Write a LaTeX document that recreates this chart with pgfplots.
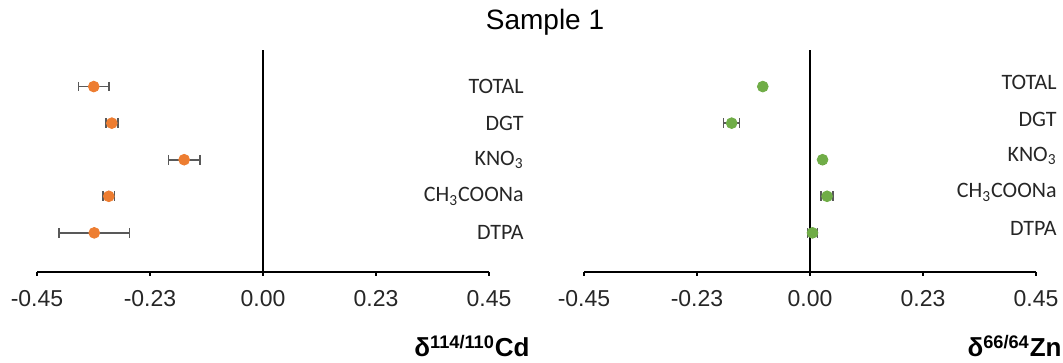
\documentclass[border=0pt]{standalone}
\usepackage{pgfplots}
\usepackage{pgfplotstable}
\pgfplotsset{compat=1.18}
\usepackage{fontspec}
\setmainfont{Liberation Sans}
\newfontfamily\calfont{Carlito}
\definecolor{cdorange}{HTML}{ED7D31}
\definecolor{zngreen}{HTML}{70AD47}
\definecolor{errgray}{HTML}{595959}

\pgfplotstableread{
x y e
-0.337 5 0.030
-0.301 4 0.012
-0.157 3 0.031
-0.307 2 0.011
-0.336 1 0.070
}\cdtab

\pgfplotstableread{
x y e
-0.094 5 0.003
-0.156 4 0.016
0.025 3 0.003
0.034 2 0.012
0.005 1 0.010
}\zntab

\pgfplotsset{panel/.style={
  anchor=south west,
  scale only axis, width=226pt, height=111pt,
  xmin=-0.45, xmax=0.45, ymin=-0.07, ymax=6,
  axis x line*=bottom, axis y line*=right,
  x axis line style={line width=0.8pt, black},
  y axis line style={draw=none},
  xtick={-0.45,-0.225,0,0.225,0.45},
  xticklabels={-0.45,-0.23,0.00,0.23,0.45},
  tick align=outside, major tick length=2pt,
  xtick style={line width=0.8pt, black},
  xticklabel style={font=\fontsize{11.5}{13}\selectfont, text=black!85, inner sep=0pt, yshift=-7pt},
  ytick={1,2,3,4,5},
  yticklabels={DTPA,CH\textsubscript{3}COONa,KNO\textsubscript{3},DGT,TOTAL},
  ytick style={draw=none},
  yticklabel style={anchor=east, inner sep=0pt, font=\calfont\fontsize{11}{13}\selectfont, text=black!85},
  clip=false,
},
caps/.style={only marks, mark=|, mark size=2.4pt, errgray, mark options={line width=0.8pt, errgray}},
pts/.style={only marks, mark=*, mark size=2.7pt,
  error bars/.cd, x dir=both, x explicit, error mark=none,
  error bar style={line width=0.8pt, errgray}},
}

\begin{document}
\begin{tikzpicture}
\begin{axis}[panel, at={(18.5pt,45.5pt)}, yticklabel style={xshift=15.5pt}]
\draw[line width=0.8pt, black] (axis cs:0,-0.07) -- (axis cs:0,6);
\addplot[caps] table[x expr=\thisrow{x}-\thisrow{e}, y=y] {\cdtab};
\addplot[caps] table[x expr=\thisrow{x}+\thisrow{e}, y=y] {\cdtab};
\addplot[color=cdorange, pts] table[x=x, y=y, x error=e] {\cdtab};
\end{axis}
\begin{axis}[panel, at={(292pt,45.5pt)}, yticklabel style={xshift=8.5pt, yshift=2pt}]
\draw[line width=0.8pt, black] (axis cs:0,-0.07) -- (axis cs:0,6);
\addplot[caps] table[x expr=\thisrow{x}-\thisrow{e}, y=y] {\zntab};
\addplot[caps] table[x expr=\thisrow{x}+\thisrow{e}, y=y] {\zntab};
\addplot[color=zngreen, pts] table[x=x, y=y, x error=e] {\zntab};
\end{axis}
\node[font=\fontsize{14}{16}\selectfont] at (272.5pt,170.5pt) {Sample 1};
\node[anchor=base east, font=\bfseries\fontsize{13}{15}\selectfont, inner sep=0pt] at (265pt,3pt) {δ\textsuperscript{114/110}Cd};
\node[anchor=base east, font=\bfseries\fontsize{13}{15}\selectfont, inner sep=0pt] at (531pt,3pt) {δ\textsuperscript{66/64}Zn};
\pgfresetboundingbox
\useasboundingbox (0,0) rectangle (531.5pt,181.5pt);
\end{tikzpicture}
\end{document}
